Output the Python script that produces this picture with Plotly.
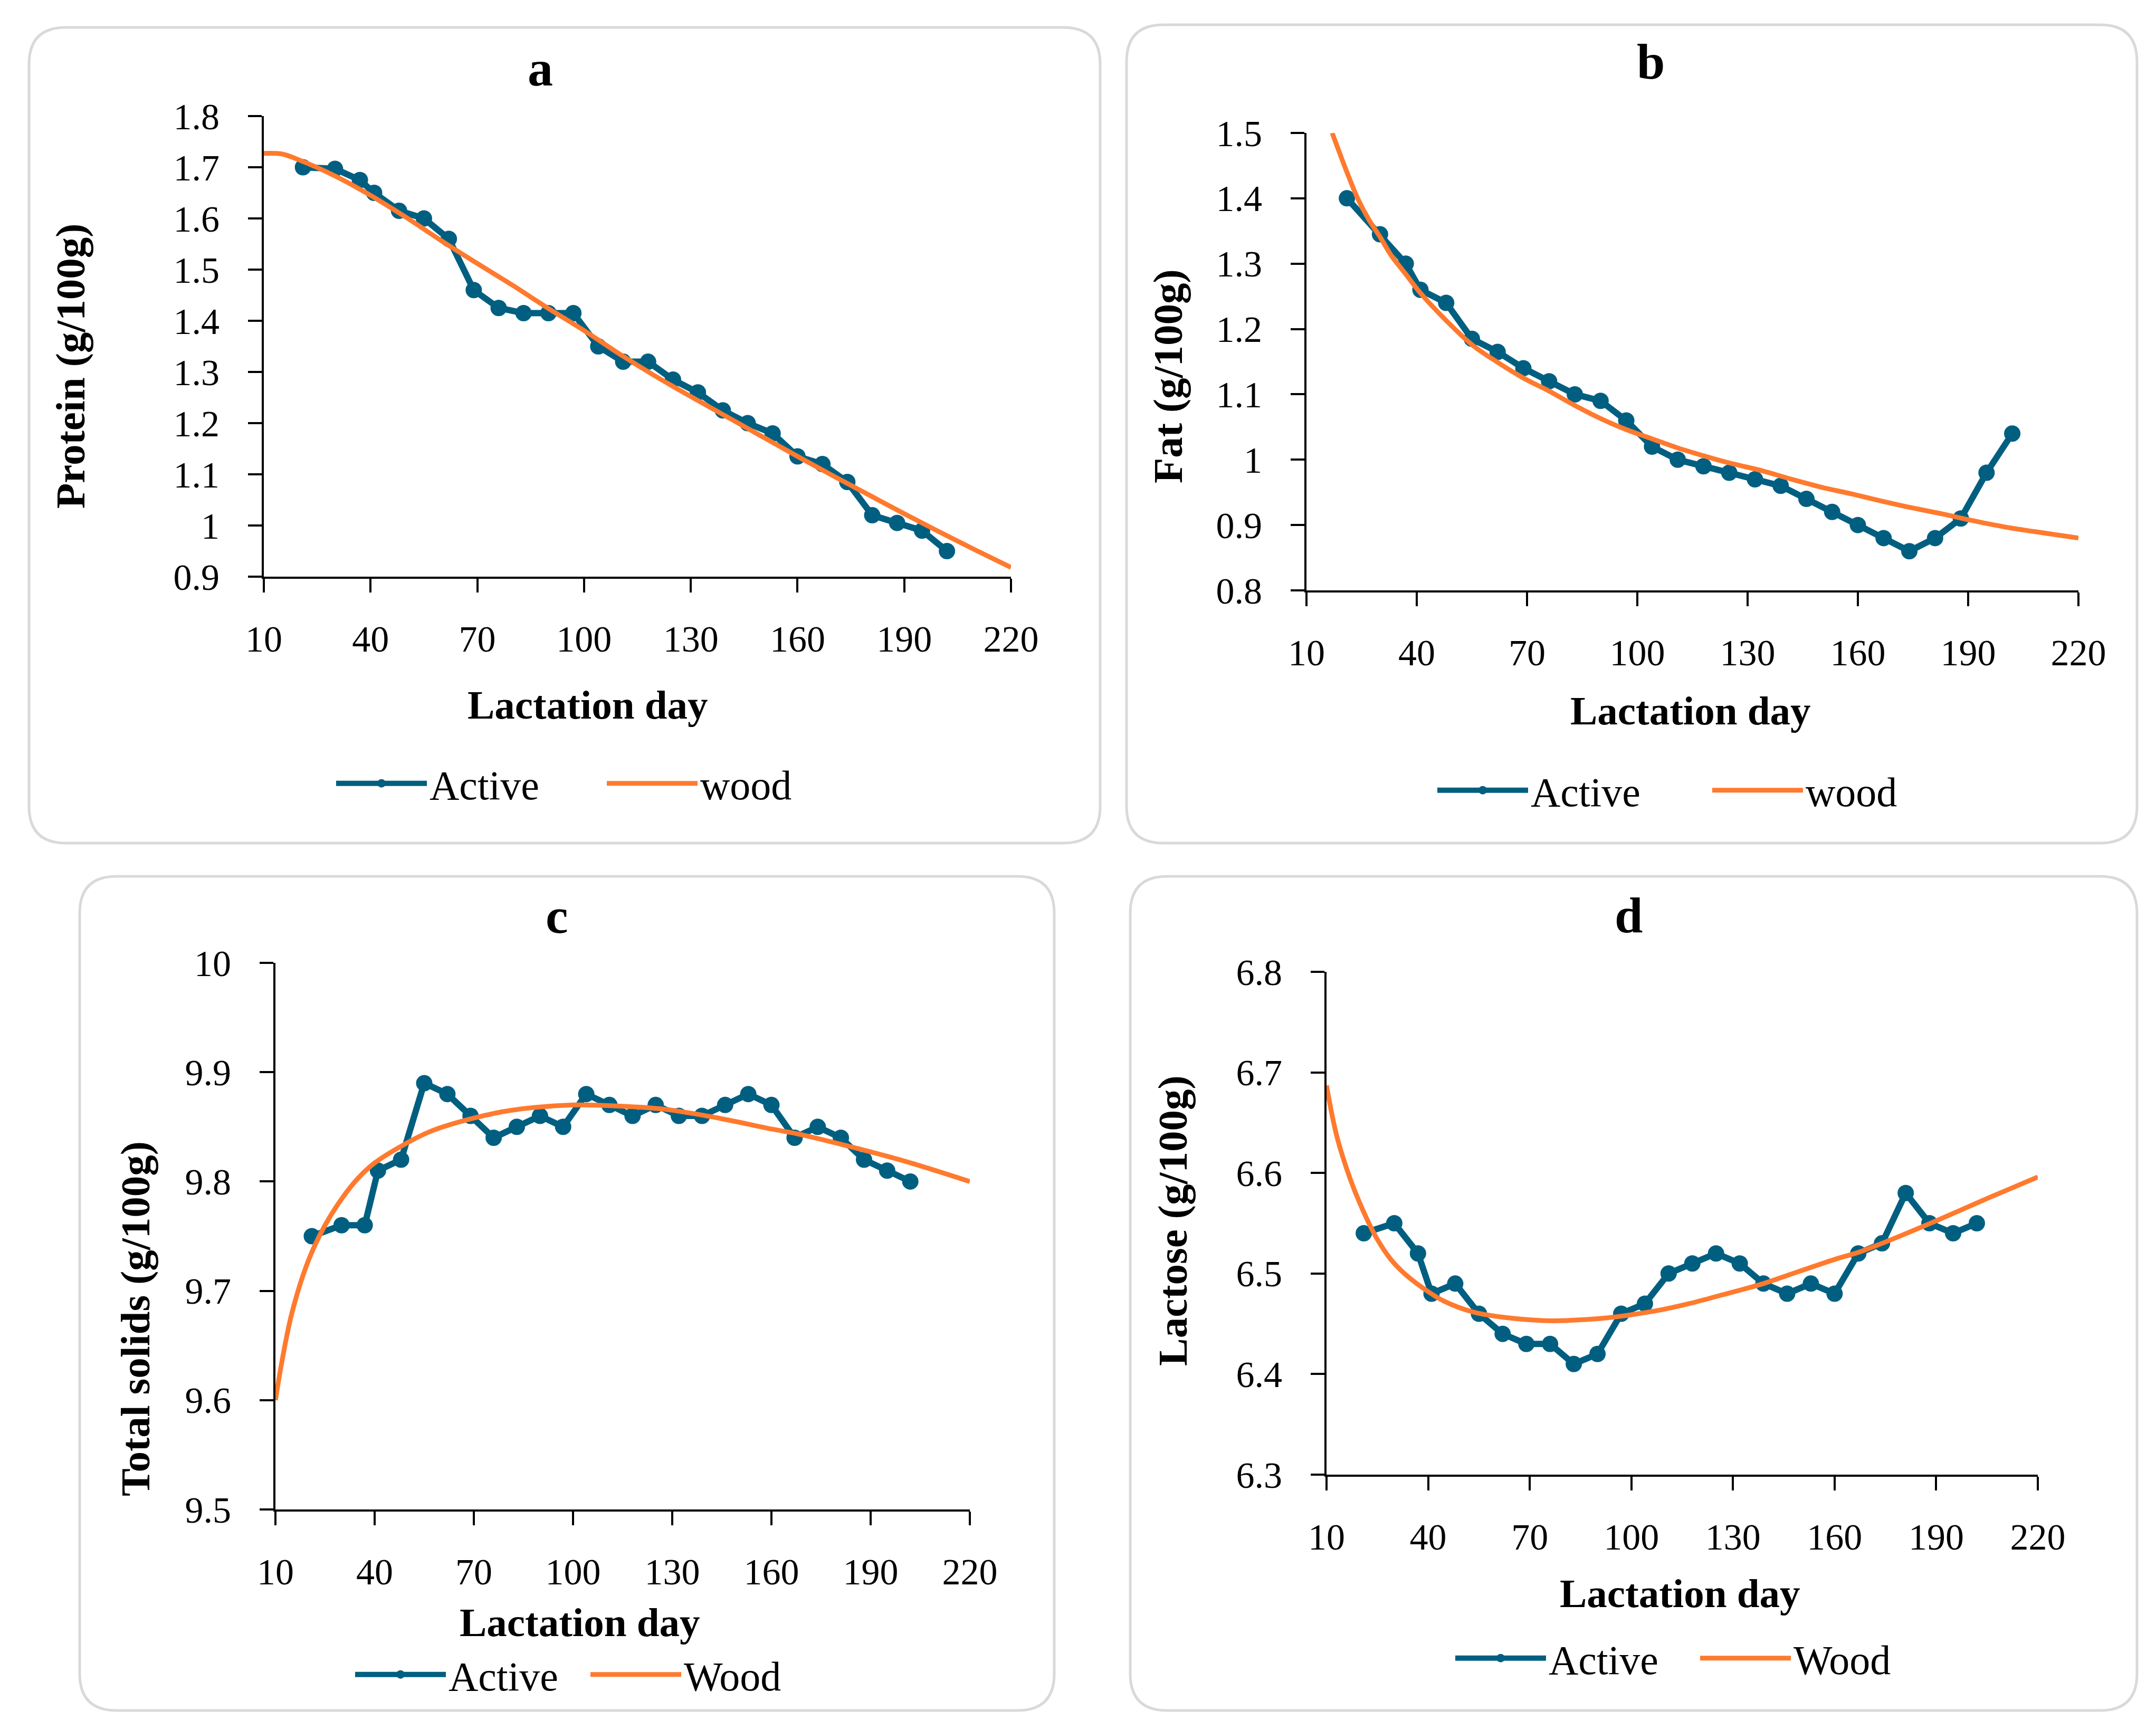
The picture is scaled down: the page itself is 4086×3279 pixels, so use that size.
import plotly.graph_objects as go

W, H = 4086, 3279

# ---------------- data ----------------
days = [21, 30, 37, 41, 48, 55, 62, 69, 76, 83, 90, 97, 104, 111, 118, 125,
        132, 139, 146, 153, 160, 167, 174, 181, 188, 195, 202]

protein = [1.70, 1.697, 1.675, 1.65, 1.615, 1.60, 1.56, 1.46, 1.425, 1.415, 1.415, 1.415,
           1.35, 1.32, 1.32, 1.285, 1.26, 1.225, 1.20, 1.18, 1.135, 1.12, 1.085, 1.02,
           1.005, 0.99, 0.95]
fat = [1.40, 1.345, 1.30, 1.26, 1.24, 1.185, 1.165, 1.14, 1.12, 1.10, 1.09, 1.06, 1.02,
       1.00, 0.99, 0.98, 0.97, 0.96, 0.94, 0.92, 0.90, 0.88, 0.86, 0.88, 0.91, 0.98, 1.04]
total_solids = [9.75, 9.76, 9.76, 9.81, 9.82, 9.89, 9.88, 9.86, 9.84, 9.85, 9.86, 9.85,
                9.88, 9.87, 9.86, 9.87, 9.86, 9.86, 9.87, 9.88, 9.87, 9.84, 9.85, 9.84,
                9.82, 9.81, 9.80]
lactose = [6.54, 6.55, 6.52, 6.48, 6.49, 6.46, 6.44, 6.43, 6.43, 6.41, 6.42, 6.46, 6.47,
           6.50, 6.51, 6.52, 6.51, 6.49, 6.48, 6.49, 6.48, 6.52, 6.53, 6.58, 6.55, 6.54, 6.55]

wood_protein_days = [10, 15, 20, 30, 40, 50, 60, 70, 80, 90, 100, 110, 120, 130, 140,
                     150, 160, 170, 180, 190, 200, 210, 220]
wood_protein = [1.727, 1.726, 1.714, 1.683, 1.645, 1.602, 1.556, 1.512, 1.469, 1.424, 1.381,
                1.335, 1.292, 1.252, 1.213, 1.174, 1.135, 1.097, 1.060, 1.023, 0.987,
                0.952, 0.918]

wood_fat_days = [17, 21, 24, 27, 30, 33, 37, 41, 48, 55, 62, 69, 76, 83, 90, 97, 104, 111,
                 118, 125, 134, 142, 150, 158, 167, 175, 183, 191, 200, 208, 220]
wood_fat = [1.50, 1.44, 1.399, 1.367, 1.341, 1.313, 1.284, 1.255, 1.213, 1.176, 1.149,
            1.125, 1.105, 1.083, 1.063, 1.046, 1.032, 1.018, 1.006, 0.995, 0.983, 0.970,
            0.958, 0.948, 0.936, 0.926, 0.917, 0.907, 0.897, 0.890, 0.880]

wood_ts_days = [10, 12, 15, 20, 25, 30, 35, 40, 49, 57, 70, 81, 100, 114, 128,
                144, 160, 168, 185, 201, 220]
wood_ts = [9.600, 9.636, 9.680, 9.728, 9.760, 9.784, 9.803, 9.817, 9.834, 9.846, 9.858,
           9.865, 9.870, 9.869, 9.866, 9.858, 9.848, 9.8435, 9.831, 9.818, 9.800]

wood_lac_days = [10, 13, 17, 21, 25, 29, 33, 40, 45, 53, 61, 70, 77, 85, 93, 100, 109, 117,
                 126, 139, 146, 160, 167, 174, 189, 206, 220]
wood_lac = [6.687, 6.637, 6.594, 6.561, 6.534, 6.514, 6.500, 6.482, 6.472, 6.462, 6.457,
            6.454, 6.453, 6.454, 6.456, 6.459, 6.464, 6.470, 6.478, 6.490, 6.498, 6.514,
            6.521, 6.530, 6.551, 6.576, 6.596]

x_tickvals = [10, 40, 70, 100, 130, 160, 190, 220]
x_ticktext = ["10", "40", "70", "100", "130", "160", "190", "220"]

protein_tickvals = [0.9, 1.0, 1.1, 1.2, 1.3, 1.4, 1.5, 1.6, 1.7, 1.8]
protein_ticktext = ["0.9", "1", "1.1", "1.2", "1.3", "1.4", "1.5", "1.6", "1.7", "1.8"]
fat_tickvals = [0.8, 0.9, 1.0, 1.1, 1.2, 1.3, 1.4, 1.5]
fat_ticktext = ["0.8", "0.9", "1", "1.1", "1.2", "1.3", "1.4", "1.5"]
ts_tickvals = [9.5, 9.6, 9.7, 9.8, 9.9, 10.0]
ts_ticktext = ["9.5", "9.6", "9.7", "9.8", "9.9", "10"]
lac_tickvals = [6.3, 6.4, 6.5, 6.6, 6.7, 6.8]
lac_ticktext = ["6.3", "6.4", "6.5", "6.6", "6.7", "6.8"]

panel_letters = ["a", "b", "c", "d"]
y_titles = ["Protein (g/100g)", "Fat (g/100g)", "Total solids (g/100g)", "Lactose (g/100g)"]
x_title = "Lactation day"
active_name = "Active"
wood_names = ["wood", "wood", "Wood", "Wood"]

# ---------------- style ----------------
BLUE = "#005F80"
ORANGE = "#FF7A2E"
FONT = "Liberation Serif"
TICK_SIZE = 70
TITLE_SIZE = 77
YTITLE_SIZE = 79
LEGEND_SIZE = 78
LETTER_SIZE = 96
ITEM_W = 172


def fx(px):
    return px / W


def fy(py):
    return 1 - py / H


# plot-area pixel boxes: (left, top, right, bottom)
plot_boxes = [
    (492, 212, 1908, 1085),
    (2468, 244, 3931, 1111),
    (514, 1817, 1830, 2853),
    (2506, 1834, 3854, 2787),
]
# panel frames
frames = [
    (47, 44, 2077, 1590),
    (2127, 39, 4042, 1590),
    (143, 1653, 1990, 3234),
    (2134, 1653, 4042, 3234),
]
letter_pos = [(1016, 122), (3120, 108), (1047, 1727), (3078, 1726)]
xtitle_pos = [(1106, 1328), (3196, 1339), (1091, 3067), (3176, 3012)]
ytitle_pos = [(125, 686), (2205, 705), (248, 2492), (2214, 2306)]
# (start x of the legend text "Active", vertical centre)
legend_text_pos = [(811, 1477), (2898, 1490), (847, 3166), (2932, 3135)]
legend_gap = [513, 521, 446, 464]

series = [
    (protein, wood_protein_days, wood_protein, [0.9, 1.8], protein_tickvals, protein_ticktext),
    (fat, wood_fat_days, wood_fat, [0.8, 1.5], fat_tickvals, fat_ticktext),
    (total_solids, wood_ts_days, wood_ts, [9.5, 10.0], ts_tickvals, ts_ticktext),
    (lactose, wood_lac_days, wood_lac, [6.3, 6.8], lac_tickvals, lac_ticktext),
]

fig = go.Figure()
annotations = []
shapes = []
layout_axes = {}

for i, (active, wdays, wvals, yrange, ytv, ytt) in enumerate(series):
    n = i + 1
    xa = "x" if n == 1 else f"x{n}"
    ya = "y" if n == 1 else f"y{n}"
    leg = "legend" if n == 1 else f"legend{n}"

    fig.add_trace(go.Scatter(
        x=days, y=active, name=active_name, mode="lines+markers",
        line=dict(color=BLUE, width=12), marker=dict(color=BLUE, size=31),
        xaxis=xa, yaxis=ya, legend=leg, showlegend=True))
    fig.add_trace(go.Scatter(
        x=wdays, y=wvals, name=wood_names[i], mode="lines",
        line=dict(color=ORANGE, width=9, shape="spline", smoothing=1.0),
        xaxis=xa, yaxis=ya, legend=leg, showlegend=True))

    l, t, r, b = plot_boxes[i]
    axis_common = dict(showline=True, linecolor="black", linewidth=4, ticks="outside",
                       ticklen=26, tickwidth=4, tickcolor="black", showgrid=False,
                       zeroline=False, automargin=False,
                       tickfont=dict(family=FONT, size=TICK_SIZE, color="black"))
    xkey = "xaxis" if n == 1 else f"xaxis{n}"
    ykey = "yaxis" if n == 1 else f"yaxis{n}"
    layout_axes[xkey] = dict(domain=[fx(l), fx(r)], range=[10, 220], tickmode="array",
                             tickvals=x_tickvals, ticktext=x_ticktext, anchor=ya,
                             ticklabelstandoff=28, **axis_common)
    layout_axes[ykey] = dict(domain=[fy(b), fy(t)], range=yrange, tickmode="array",
                             tickvals=ytv, ticktext=ytt, anchor=xa,
                             ticklabelstandoff=40, **axis_common)

    tx, ty = legend_text_pos[i]
    layout_axes[leg] = dict(orientation="h", x=fx(tx - ITEM_W - 15), y=fy(ty), xanchor="left",
                            yanchor="middle", font=dict(family=FONT, size=LEGEND_SIZE, color="black"),
                            bgcolor="rgba(0,0,0,0)", borderwidth=0,
                            entrywidth=legend_gap[i] - ITEM_W - 15, entrywidthmode="pixels",
                            itemwidth=ITEM_W, traceorder="normal")

    # panel frame (rounded rectangle)
    x0, y0, x1, y1 = frames[i]
    rr = 70
    pts = [("M", x0 + rr, y0), ("L", x1 - rr, y0), ("Q", x1, y0, x1, y0 + rr),
           ("L", x1, y1 - rr), ("Q", x1, y1, x1 - rr, y1), ("L", x0 + rr, y1),
           ("Q", x0, y1, x0, y1 - rr), ("L", x0, y0 + rr), ("Q", x0, y0, x0 + rr, y0)]
    path = ""
    for p in pts:
        cmd = p[0]
        coords = p[1:]
        segs = []
        for k in range(0, len(coords), 2):
            segs.append(f"{fx(coords[k]):.5f},{fy(coords[k + 1]):.5f}")
        path += cmd + " " + " ".join(segs) + " "
    path += "Z"
    shapes.append(dict(type="path", path=path, xref="paper", yref="paper",
                       line=dict(color="#D9D9D9", width=5), fillcolor="white",
                       layer="below"))

    px_, py_ = letter_pos[i]
    annotations.append(dict(text=f"<b>{panel_letters[i]}</b>", x=fx(px_), y=fy(py_),
                            xref="paper", yref="paper", showarrow=False, xanchor="center",
                            yanchor="middle", font=dict(family=FONT, size=LETTER_SIZE, color="black")))
    px_, py_ = xtitle_pos[i]
    annotations.append(dict(text=f"<b>{x_title}</b>", x=fx(px_), y=fy(py_),
                            xref="paper", yref="paper", showarrow=False, xanchor="center",
                            yanchor="middle", font=dict(family=FONT, size=TITLE_SIZE, color="black")))
    px_, py_ = ytitle_pos[i]
    annotations.append(dict(text=f"<b>{y_titles[i]}</b>", x=fx(px_), y=fy(py_),
                            xref="paper", yref="paper", showarrow=False, xanchor="center",
                            yanchor="middle", textangle=-90,
                            font=dict(family=FONT, size=YTITLE_SIZE, color="black")))

fig.update_layout(
    width=W, height=H,
    margin=dict(l=0, r=0, t=0, b=0, pad=0, autoexpand=False),
    paper_bgcolor="white", plot_bgcolor="rgba(0,0,0,0)",
    annotations=annotations, shapes=shapes,
    **layout_axes,
)

fig.write_html("out.html")
